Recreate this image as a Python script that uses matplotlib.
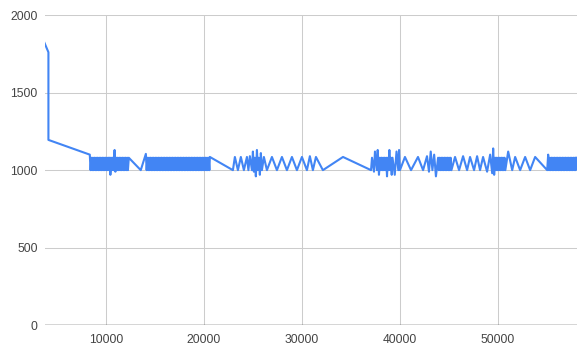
import matplotlib.pyplot as plt

# (x, y) runs, left to right
start = [(3730, 1820), (4130, 1760), (4130, 1590), (4130, 1195), (8350, 1100)]

# dense runs: x and y kept in rows of ten
block_a_x = [8430, 8510, 8590, 8670, 8750, 8830, 8910, 8990, 9070, 9150,
             9230, 9310, 9390, 9470, 9550, 9630, 9710, 9790, 9870, 9950,
             10030, 10110, 10190, 10270, 10350, 10390]
block_a_y = [1000, 1080, 1000, 1080, 1000, 1080, 1000, 1080, 1000, 1080,
             1000, 1080, 1000, 1080, 1000, 1080, 1000, 1080, 1000, 1080,
             1000, 1080, 1000, 1080, 1000, 1080]

block_b = [(10450, 970), (10520, 1080), (10590, 1000), (10670, 1080), (10750, 1000),
           (10880, 1130), (10960, 990), (11040, 1080), (11120, 1000), (11200, 1080),
           (11280, 1000), (11360, 1080), (11440, 1000), (11520, 1080), (11600, 1000),
           (11680, 1080), (11760, 1000), (11840, 1080), (11920, 1000), (12000, 1080),
           (12080, 1000), (12160, 1080), (12240, 1000), (12330, 1080),
           (13550, 1000), (14070, 1105)]

block_c_x = [14150, 14230, 14310, 14390, 14470, 14550, 14630, 14710, 14790, 14870,
             14950, 15030, 15110, 15190, 15270, 15350, 15430, 15510, 15590, 15670,
             15750, 15830, 15910, 15990, 16070, 16150, 16230, 16310, 16390, 16470,
             16550, 16630, 16710, 16790, 16870, 16950, 17030, 17110, 17190, 17270,
             17350, 17430, 17510, 17590, 17670, 17750, 17830, 17910, 17990, 18070,
             18150, 18230, 18310, 18390, 18470, 18550, 18630, 18710, 18790, 18870,
             18950, 19030, 19110, 19190, 19270, 19350, 19430, 19510, 19590, 19670,
             19750, 19830, 19910, 19990, 20070, 20150, 20230, 20310, 20390, 20470,
             20550, 20600]
block_c_y = [1000, 1080, 1000, 1080, 1000, 1080, 1000, 1080, 1000, 1080,
             1000, 1080, 1000, 1080, 1000, 1080, 1000, 1080, 1000, 1080,
             1000, 1080, 1000, 1080, 1000, 1080, 1000, 1080, 1000, 1080,
             1000, 1080, 1000, 1080, 1000, 1080, 1000, 1080, 1000, 1080,
             1000, 1080, 1000, 1080, 1000, 1080, 1000, 1080, 1000, 1080,
             1000, 1080, 1000, 1080, 1000, 1080, 1000, 1080, 1000, 1080,
             1000, 1080, 1000, 1080, 1000, 1080, 1000, 1080, 1000, 1080,
             1000, 1080, 1000, 1080, 1000, 1080, 1000, 1080, 1000, 1080,
             1000, 1085]

zig_d = [(22950, 1000), (23150, 1085), (23460, 1000), (23760, 1085), (24070, 1000),
         (24380, 1085), (24530, 1000), (24680, 1090), (24890, 1000), (24990, 1120),
         (25090, 990), (25190, 1080), (25290, 960), (25400, 1130), (25500, 1000),
         (25600, 1080), (25700, 970), (25800, 1110), (25910, 1000), (26110, 1085),
         (26420, 1000), (26930, 1085), (27440, 1000), (27950, 1085), (28460, 1000),
         (28970, 1085), (29480, 1000), (29990, 1085), (30500, 1000), (30800, 1090),
         (31110, 1000), (31420, 1085), (32130, 1000), (34180, 1085), (37040, 1000)]

dense_e = [(37140, 1080), (37340, 990), (37440, 1120), (37640, 1000), (37720, 1130),
           (37850, 970), (37950, 1080), (38030, 1000), (38110, 1080), (38190, 1000),
           (38270, 1080), (38350, 1000), (38430, 1080), (38510, 1000), (38590, 1080),
           (38670, 960), (38750, 1080), (38830, 1000), (38910, 1130), (38990, 1000),
           (39070, 1080), (39150, 970), (39230, 1080), (39460, 970), (39640, 1120),
           (39820, 1000), (39900, 1130), (39990, 1000),
           (40500, 1085), (41120, 1000), (41830, 1085), (42350, 1000), (42750, 1090),
           (42950, 990), (43130, 1120), (43300, 1000), (43480, 1100), (43660, 960),
           (43880, 1080)]

block_g_x = [43960, 44040, 44120, 44200, 44280, 44360, 44440, 44520, 44600, 44680,
             44760, 44840, 44920, 45000, 45080, 45160, 45240]
block_g_y = [1000, 1080, 1000, 1080, 1000, 1080, 1000, 1080, 1000, 1080,
             1000, 1080, 1000, 1080, 1000, 1080, 1000]

zig_h = [(45610, 1085), (46020, 1000), (46430, 1090), (46840, 1000), (47140, 1085),
         (47550, 1000), (47860, 1090), (48160, 1000), (48470, 1085), (48880, 990),
         (49190, 1100), (49400, 980), (49500, 1140), (49600, 970), (49700, 1080)]

block_i_x = [49780, 49860, 49940, 50020, 50100, 50180, 50260, 50340, 50420, 50500,
             50580, 50660, 50740]
block_i_y = [1000, 1080, 1000, 1080, 1000, 1080, 1000, 1080, 1000, 1080,
             1000, 1080, 1000]

zig_j = [(51030, 1120), (51440, 1000), (51740, 1085), (52250, 1000), (52760, 1085),
         (53270, 1000), (53780, 1085), (55010, 1000), (55110, 1100)]

block_k_x = [55200, 55280, 55360, 55440, 55520, 55600, 55680, 55760, 55840, 55920,
             56000, 56080, 56160, 56240, 56320, 56400, 56480, 56560, 56640, 56720,
             56800, 56880, 56960, 57040, 57120, 57200, 57280, 57360, 57440, 57520,
             57600, 57680, 57760, 57840, 57920, 58000]
block_k_y = [1000, 1080, 1000, 1080, 1000, 1080, 1000, 1080, 1000, 1080,
             1000, 1080, 1000, 1080, 1000, 1080, 1000, 1080, 1000, 1080,
             1000, 1080, 1000, 1080, 1000, 1080, 1000, 1080, 1000, 1080,
             1000, 1080, 1000, 1080, 1000, 1080]

x_ticks = [10000, 20000, 30000, 40000, 50000]
y_ticks = [0, 500, 1000, 1500, 2000]

segments = [start, list(zip(block_a_x, block_a_y)), block_b,
            list(zip(block_c_x, block_c_y)), zig_d, dense_e,
            list(zip(block_g_x, block_g_y)), zig_h,
            list(zip(block_i_x, block_i_y)), zig_j,
            list(zip(block_k_x, block_k_y))]
points = [p for seg in segments for p in seg]
xs = [p[0] for p in points]
ys = [p[1] for p in points]

plt.rcParams['font.family'] = ['Liberation Sans', 'DejaVu Sans']

fig = plt.figure(figsize=(5.82, 3.52), dpi=100)
ax = fig.add_axes([44.5 / 582, 1 - 325.3 / 352, 532 / 582, 310.3 / 352])

ax.plot(xs, ys, color='#4285f4', linewidth=1.5, solid_joinstyle='round')

ax.set_xlim(3730, 58000)
ax.set_ylim(0, 2000)
ax.set_xticks(x_ticks, labels=[str(v) for v in x_ticks])
ax.set_yticks(y_ticks, labels=[str(v) for v in y_ticks])
ax.grid(True, color='#cccccc', linewidth=0.75)
ax.set_axisbelow(True)
ax.axhline(0, color='#333333', linewidth=1.0, zorder=3)

for s in ax.spines.values():
    s.set_visible(False)
ax.tick_params(length=0, labelsize=8.7, labelcolor='#444444')
ax.tick_params(axis='x', pad=6)
ax.tick_params(axis='y', pad=5)

fig.savefig('out.png', dpi=100)
